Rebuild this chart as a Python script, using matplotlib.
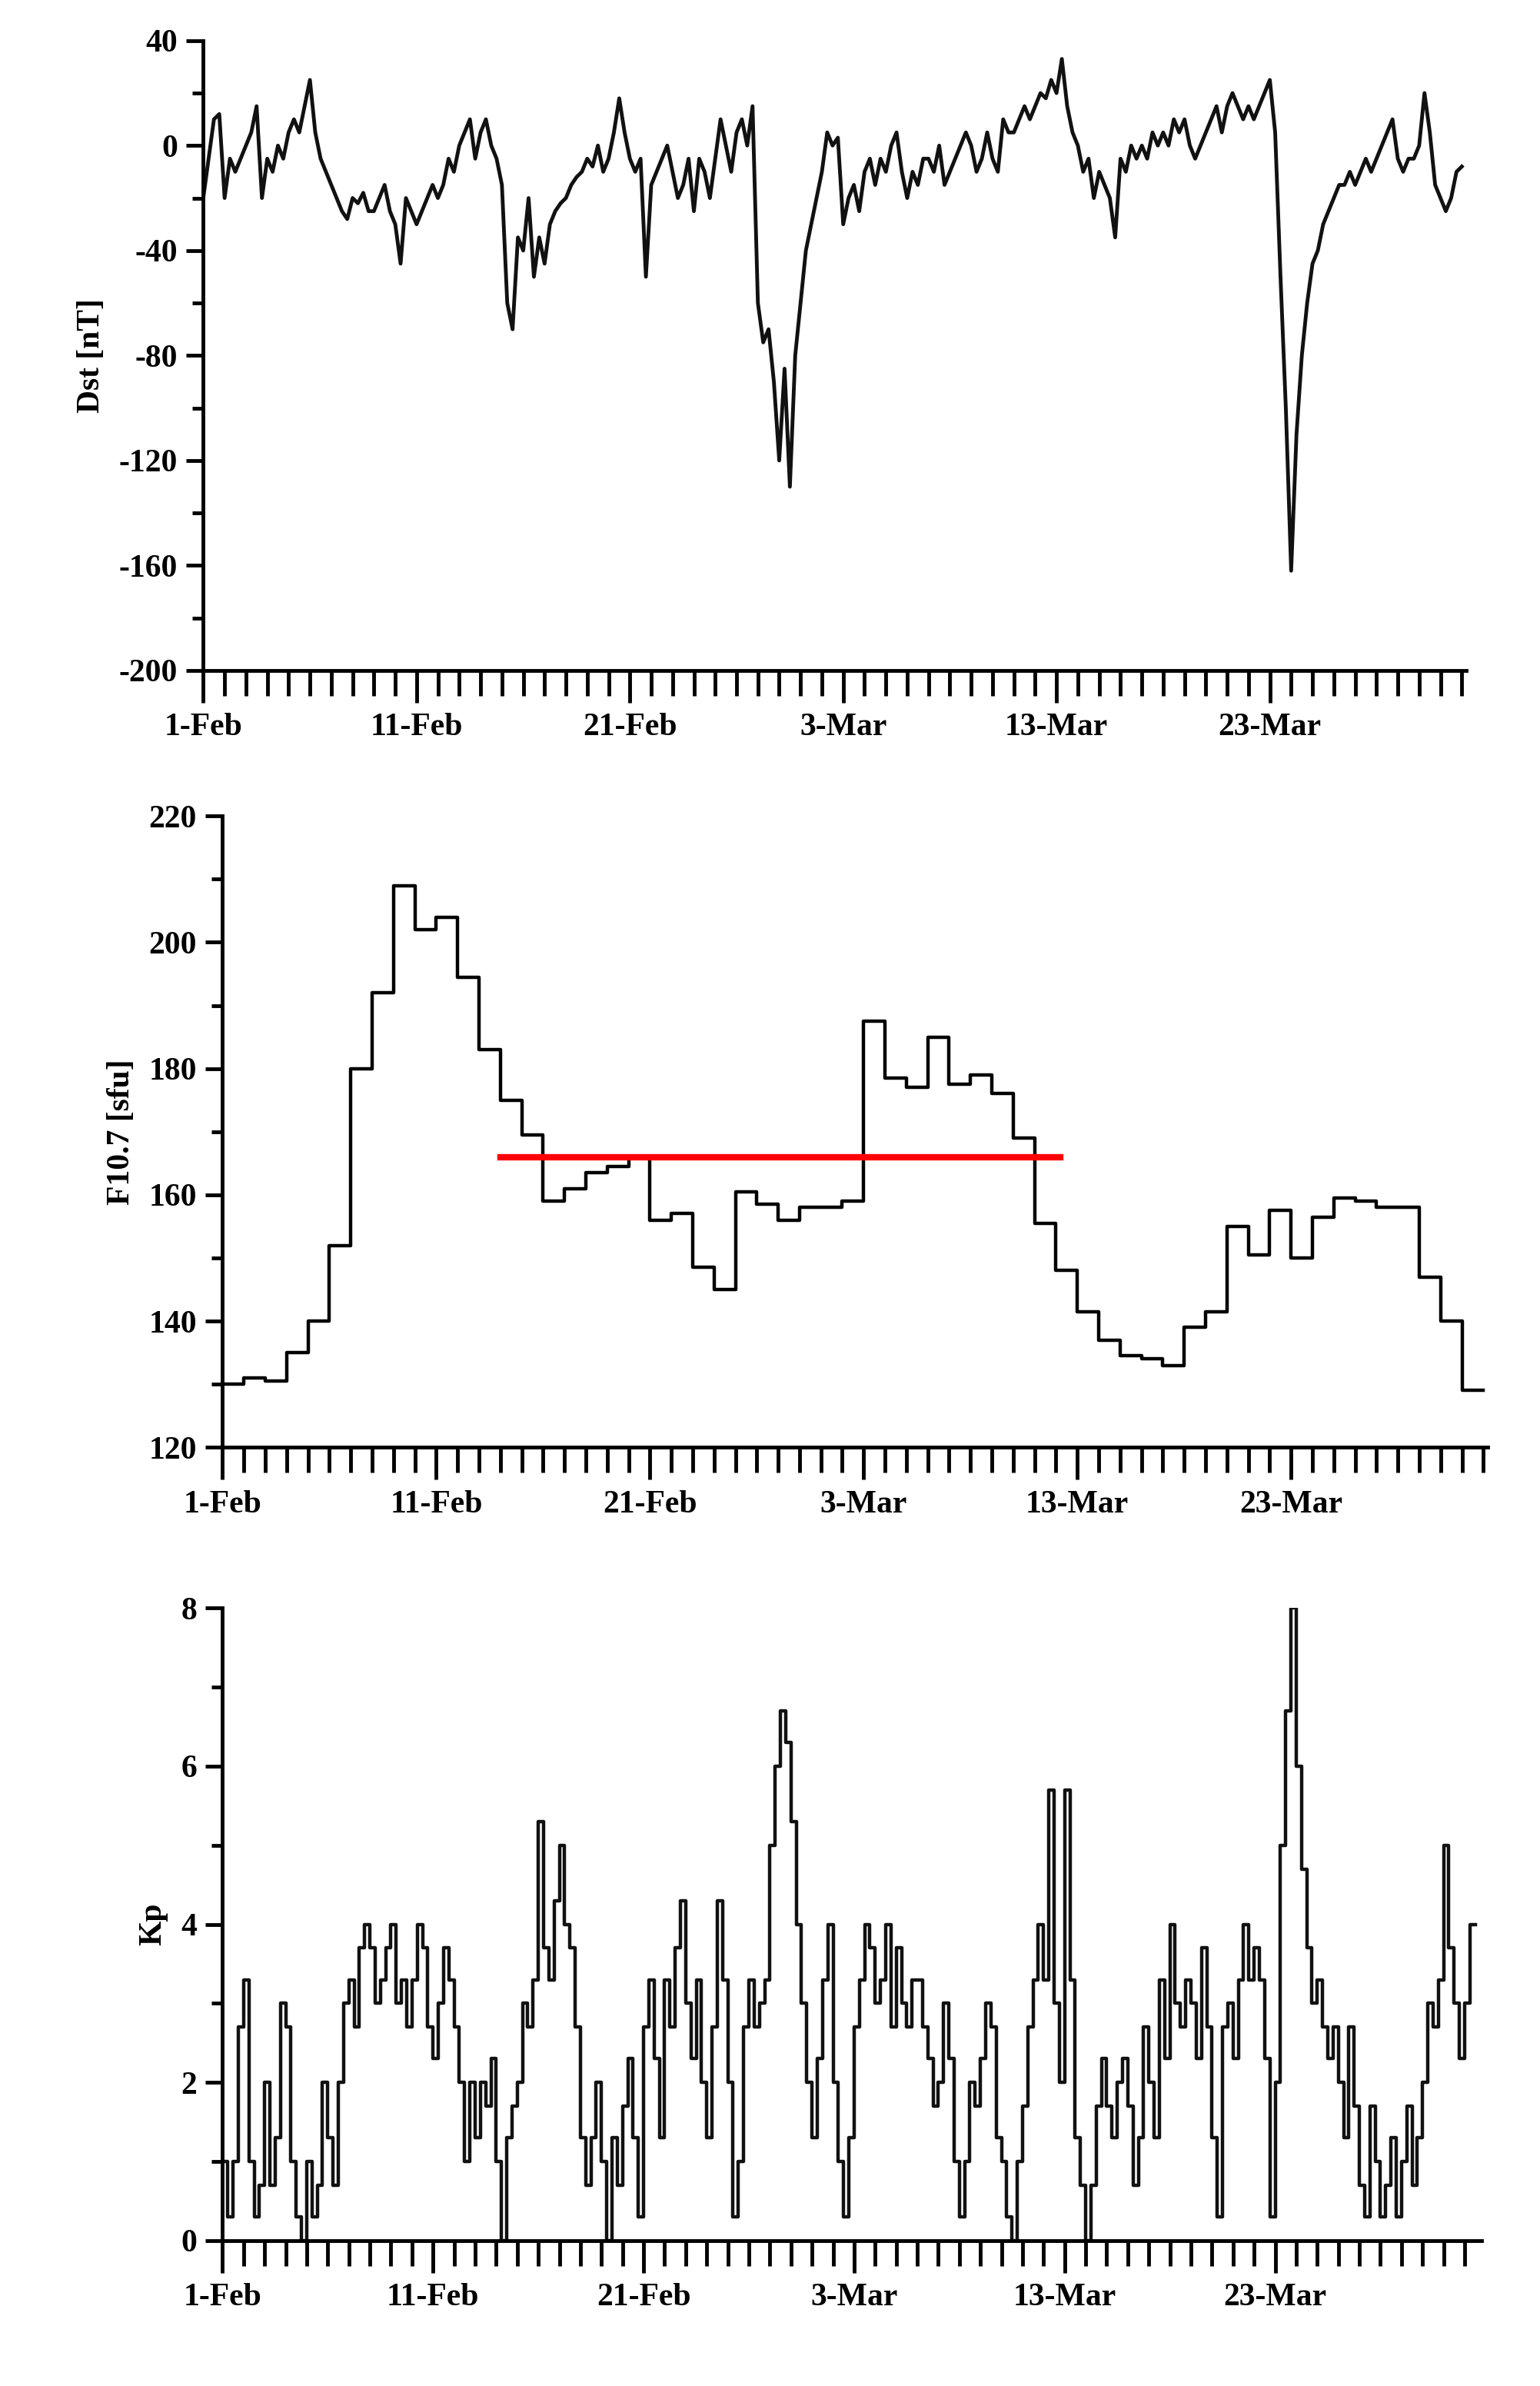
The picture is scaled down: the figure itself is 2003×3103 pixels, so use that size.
import matplotlib
matplotlib.use("Agg")
import matplotlib.pyplot as plt
import numpy as np
from matplotlib.ticker import MultipleLocator

plt.rcParams['font.family'] = ['Liberation Serif', 'DejaVu Serif']
plt.rcParams['font.weight'] = 'bold'
plt.rcParams['axes.unicode_minus'] = False

tick_pos = [0, 10, 20, 30, 40, 50]
tick_labels = ['1-Feb', '11-Feb', '21-Feb', '3-Mar', '13-Mar', '23-Mar']

# Dst, 6-hourly samples from 1 Feb
dst = [-20,-5,10,12, -20,-5,-10,-5, 0,5,15,-20, -5,-10,0,-5, 5,10,5,15,
       25,5,-5,-10, -15,-20,-25,-28, -20,-22,-18,-25, -25,-20,-15,-25, -30,-45,-20,-25,
       -30,-25,-20,-15, -20,-15,-5,-10, 0,5,10,-5, 5,10,0,-5, -15,-60,-70,-35,
       -40,-20,-50,-35, -45,-30,-25,-22, -20,-15,-12,-10, -5,-8,0,-10, -5,5,18,5,
       -5,-10,-5,-50, -15,-10,-5,0, -10,-20,-15,-5, -25,-5,-10,-20, -5,10,0,-10,
       5,10,0,15, -60,-75,-70,-90, -120,-85,-130,-80, -60,-40,-30,-20, -10,5,0,3,
       -30,-20,-15,-25, -10,-5,-15,-5, -10,0,5,-10, -20,-10,-15,-5, -5,-10,0,-15,
       -10,-5,0,5, 0,-10,-5,5, -5,-10,10,5, 5,10,15,10, 15,20,18,25,
       20,33,15,5, 0,-10,-5,-20, -10,-15,-20,-35, -5,-10,0,-5, 0,-5,5,0,
       5,0,10,5, 10,0,-5,0, 5,10,15,5, 15,20,15,10, 15,10,15,20,
       25,5,-50,-100, -162,-110,-80,-60, -45,-40,-30,-25, -20,-15,-15,-10, -15,-10,-5,-10,
       -5,0,5,10, -5,-10,-5,-5, 0,20,5,-15, -20,-25,-20,-10, -8]

# F10.7 daily values, 1 Feb .. 31 Mar
f107 = [130,131,130.5,135,140,152,180,192,209,202,204,194.5,183,175,169.5,159,161,163.5,
        164.5,166,156,157,148.5,145,160.5,158.5,156,158,158,159,187.5,178.5,177,185,177.5,
        179,176,169,155.5,148,141.5,137,134.5,134,133,139,141.5,155,150.5,157.5,150,156.5,
        159.5,159,158,158,147,140,129]
f107_mean = 166
mean_span = [13, 39.2]

# Kp, 6-hourly samples
kp = [1,0.3,1,2.7, 3.3,1,0.3,0.7, 2,0.7,1.3,3, 2.7,1,0.3,0, 1,0.3,0.7,2,
      1.3,0.7,2,3, 3.3,2.7,3.7,4, 3.7,3,3.3,3.7, 4,3,3.3,2.7, 3.3,4,3.7,2.7,
      2.3,3,3.7,3.3, 2.7,2,1,2, 1.3,2,1.7,2.3, 1,0,1.3,1.7, 2,3,2.7,3.3,
      5.3,3.7,3.3,4.3, 5,4,3.7,2.7, 1.3,0.7,1.3,2, 1,0,1.3,0.7, 1.7,2.3,1.3,0.3,
      2.7,3.3,2.3,1.3, 3.3,2.7,3.7,4.3, 3,2.3,3.3,2, 1.3,2.7,4.3,3.3, 2,0.3,1,2.7,
      3.3,2.7,3,3.3, 5,6,6.7,6.3, 5.3,4,3,2, 1.3,2.3,3.3,4, 2,1,0.3,1.3,
      2.7,3.3,4,3.7, 3,3.3,4,2.7, 3.7,3,2.7,3.3, 3.3,2.7,2.3,1.7, 2,3,2.3,1,
      0.3,1,2,1.7, 2.3,3,2.7,1.3, 1,0.3,0,1, 1.7,2.7,3.3,4, 3.3,5.7,3,2,
      5.7,3.3,1.3,0.7, 0,0.7,1.7,2.3, 1.7,1.3,2,2.3, 1.7,0.7,1.3,2.7, 2,1.3,3.3,2.3,
      4,3,2.7,3.3, 3,2.3,3.7,2.7, 1.3,0.3,2.7,3, 2.3,3.3,4,3.3, 3.7,3.3,2.3,0.3,
      2,5,6.7,8, 6,4.7,3.7,3, 3.3,2.7,2.3,2.7, 2,1.3,2.7,1.7, 0.7,0.3,1.7,1,
      0.3,0.7,1.3,0.3, 1,1.7,0.7,1.3, 2,3,2.7,3.3, 5,3.7,3,2.3, 3,4,4]

fig = plt.figure(figsize=(20.03, 31.03), dpi=100)
fs = 30

def style(ax, ymin, ymax, ymaj, ymin_step, ylabel, xmax):
    ax.spines['top'].set_visible(False)
    ax.spines['right'].set_visible(False)
    for s in ['left', 'bottom']:
        ax.spines[s].set_linewidth(3.5)
    ax.set_ylim(ymin, ymax)
    ax.set_xlim(0, xmax)
    ax.yaxis.set_major_locator(MultipleLocator(ymaj))
    ax.yaxis.set_minor_locator(MultipleLocator(ymin_step))
    ax.set_xticks(tick_pos)
    ax.set_xticklabels(tick_labels)
    ax.xaxis.set_minor_locator(MultipleLocator(1))
    ax.tick_params(axis='both', which='both', direction='out', width=3.5, labelsize=fs)
    ax.tick_params(axis='y', which='major', length=16, pad=8)
    ax.tick_params(axis='y', which='minor', length=10)
    ax.tick_params(axis='x', which='major', length=30, pad=10)
    ax.tick_params(axis='x', which='minor', length=24)
    for t in ax.get_xticklabels() + ax.get_yticklabels():
        t.set_fontweight('bold')
    ax.set_ylabel(ylabel, fontsize=fs, fontweight='bold', labelpad=12)

ax1 = fig.add_axes([0.132, 0.719, 0.820, 0.264])
x1 = np.arange(len(dst)) * 0.25
ax1.plot(x1, dst, color='#111111', lw=3.5)
style(ax1, -200, 40, 40, 20, 'Dst [nT]', 59.2)

ax2 = fig.add_axes([0.1445, 0.3934, 0.8215, 0.2646])
x2 = np.arange(len(f107) + 1)
ax2.step(x2, f107 + [f107[-1]], where='post', color='black', lw=3.2)
ax2.plot(mean_span, [f107_mean, f107_mean], color='red', lw=6)
style(ax2, 120, 220, 20, 10, 'F10.7 [sfu]', 59.2)

ax3 = fig.add_axes([0.1445, 0.061, 0.8175, 0.265])
x3 = np.arange(len(kp)) * 0.25
ax3.step(x3, kp, where='post', color='#111111', lw=3.2)
style(ax3, 0, 8, 2, 1, 'Kp', 59.8)

fig.savefig('out.png', dpi=100)
